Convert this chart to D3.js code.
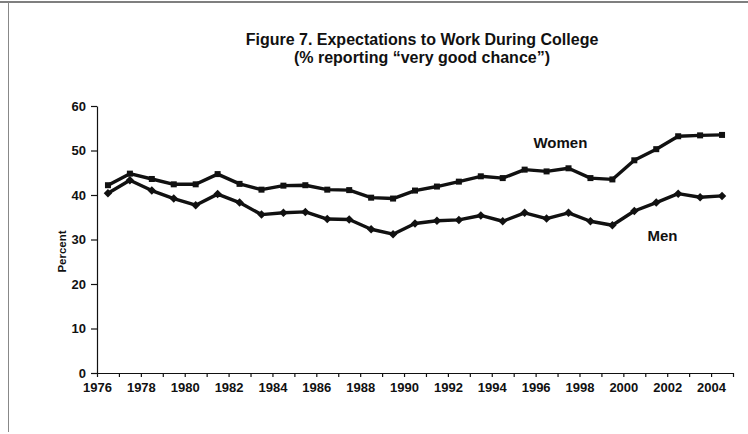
<!DOCTYPE html>
<html>
<head>
<meta charset="utf-8">
<script src="https://cdn.jsdelivr.net/npm/d3@7"></script>
<style>
  body { margin: 0; background: #fff; }
  text { font-family: "Liberation Sans", Arial, sans-serif; font-weight: bold; fill: #111; }
  .axis path, .axis line { stroke: #111; stroke-width: 1.2; }
</style>
</head>
<body>
<div id="chart-area"></div>
<script>
// survey years (one point per year)
let years = d3.range(1976, 2005);

// % reporting "very good chance" of working during college
let women = [42.2, 44.8, 43.6, 42.4, 42.4, 44.7, 42.5, 41.2, 42.1, 42.2,
             41.2, 41.1, 39.4, 39.2, 41.0, 41.9, 43.0, 44.2, 43.8, 45.7,
             45.3, 46.0, 43.8, 43.5, 47.8, 50.3, 53.2, 53.4, 53.5];
let men = [40.4, 43.3, 41.0, 39.2, 37.7, 40.2, 38.3, 35.6, 36.0, 36.2,
           34.6, 34.5, 32.3, 31.2, 33.6, 34.2, 34.4, 35.4, 34.1, 36.0,
           34.7, 36.0, 34.1, 33.2, 36.4, 38.3, 40.3, 39.5, 39.8];

let yTicks = [0, 10, 20, 30, 40, 50, 60];

let W = 748, H = 434;
let margin = {top: 106, right: 15, bottom: 61, left: 97};
let width = W - margin.left - margin.right;
let height = H - margin.top - margin.bottom;

let root = d3.select("#chart-area").append("svg")
    .attr("width", W)
    .attr("height", H);

// scanned frame edges
root.append("line")
    .attr("x1", 0).attr("x2", W).attr("y1", 2).attr("y2", 2)
    .attr("stroke", "#555").attr("stroke-width", 1.5);
root.append("line")
    .attr("x1", 8.5).attr("x2", 8.5).attr("y1", 2).attr("y2", 432)
    .attr("stroke", "#888").attr("stroke-width", 1);

// title
root.append("text")
    .attr("x", 422).attr("y", 45)
    .attr("text-anchor", "middle")
    .style("font-size", "16px")
    .text("Figure 7. Expectations to Work During College");
root.append("text")
    .attr("x", 422).attr("y", 63)
    .attr("text-anchor", "middle")
    .style("font-size", "16px")
    .text("(% reporting \u201cvery good chance\u201d)");

let svg = root.append("g")
    .attr("transform", "translate(" + margin.left + "," + margin.top + ")");

// scales: years occupy bands, ticks sit on the band edges
let x = d3.scaleLinear()
    .domain([1976, 2005])
    .range([0, width]);

let y = d3.scaleLinear()
    .domain([0, 60])
    .range([height, 0]);

let xAxis = d3.axisBottom(x)
    .tickValues(d3.range(1976, 2006))
    .tickFormat(d => (d % 2 === 0 && d < 2005) ? d : "")
    .tickSize(4)
    .tickPadding(6)
    .tickSizeOuter(0);

let yAxis = d3.axisLeft(y)
    .tickValues(yTicks)
    .tickSize(6)
    .tickPadding(5)
    .tickSizeOuter(0);

svg.append("g")
    .attr("class", "x-axis axis")
    .attr("transform", "translate(0," + height + ")")
    .call(xAxis)
    .selectAll("text")
    .style("font-size", "13px");

svg.append("g")
    .attr("class", "y-axis axis")
    .call(yAxis)
    .selectAll("text")
    .style("font-size", "13px");

svg.append("text")
    .attr("transform", "translate(-31," + (height / 2 + 12) + ") rotate(-90)")
    .attr("text-anchor", "middle")
    .style("font-size", "11.5px")
    .text("Percent");

// lines
let line = d3.line()
    .x((d, i) => x(years[i] + 0.5))
    .y(d => y(d));

[women, men].forEach(function (series, s) {
    svg.append("path")
        .datum(series)
        .attr("fill", "none")
        .attr("stroke", "#111")
        .attr("stroke-width", 3.4)
        .attr("stroke-linejoin", "round")
        .attr("d", line);

    svg.selectAll(".dot" + s)
        .data(series)
        .enter().append("rect")
        .attr("class", "dot" + s)
        .attr("x", (d, i) => x(years[i] + 0.5) - 3)
        .attr("y", d => y(d) - 3)
        .attr("width", 6)
        .attr("height", 6)
        .attr("fill", "#111")
        .attr("transform", (d, i) => s === 1
            ? "rotate(45," + x(years[i] + 0.5) + "," + y(d) + ")" : null);
});

// series labels
svg.append("text")
    .attr("x", x(1995.9)).attr("y", y(50.6))
    .style("font-size", "15px")
    .text("Women");
svg.append("text")
    .attr("x", x(2001.1)).attr("y", y(29.7))
    .style("font-size", "15px")
    .text("Men");
</script>
</body>
</html>
